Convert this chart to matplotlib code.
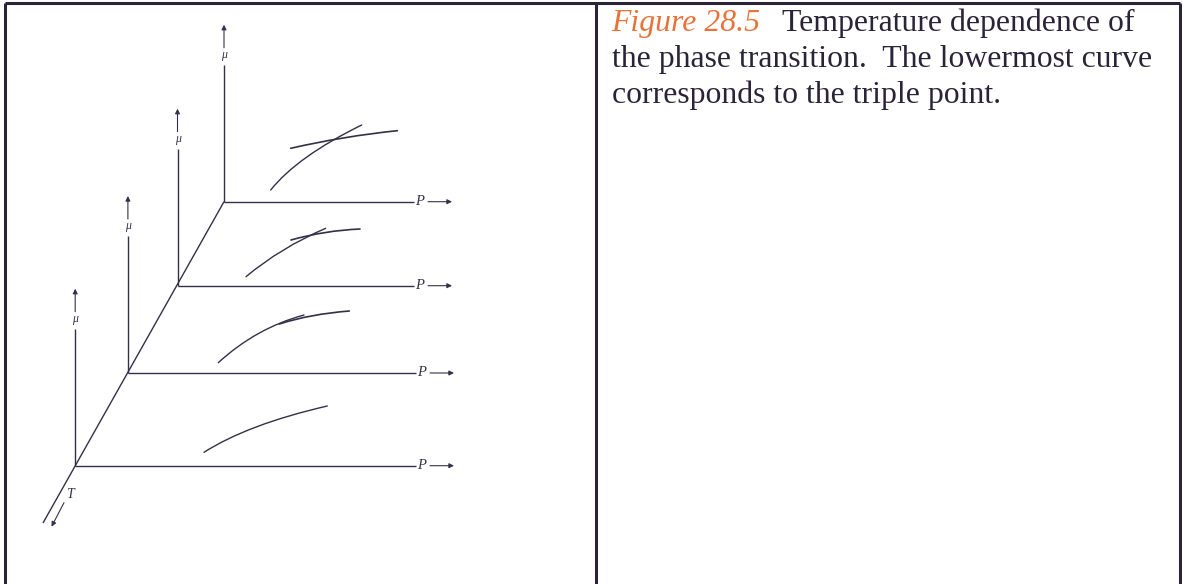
import matplotlib
matplotlib.use("Agg")
import matplotlib.pyplot as plt
from matplotlib.path import Path
from matplotlib.patches import PathPatch

# ---- diagram data (drawing units: x to the right, y downward) ----
# slices of the mu-P surface at four temperatures, bottom slice = triple point
slice_names = ["triple point", "T2", "T3", "T4"]
origin_x = [75.2, 127.9, 177.5, 224.0]
origin_y = [465.7, 373.0, 285.7, 201.7]
p_axis_end = [416.0, 416.0, 414.0, 414.0]

# temperature axis (from the far slice out toward the viewer)
t_axis_x = [224.0, 43.0]
t_axis_y = [201.7, 523.0]

# chemical-potential branches as quadratic Bezier segments: start, control, end
branch_a_start = [(204.0, 452.3), (218.3, 362.7), (246.0, 276.7), (270.7, 190.0)]
branch_a_ctrl = [(247.8, 424.3), (256.0, 328.0), (280.5, 247.7), (297.2, 156.6)]
branch_a_end = [(327.3, 406.0), (304.0, 315.0), (325.7, 228.3), (361.7, 125.0)]

branch_b_start = [None, (279.3, 324.0), (291.0, 240.0), (290.7, 148.3)]
branch_b_ctrl = [None, (309.7, 314.1), (324.5, 230.5), (344.0, 136.1)]
branch_b_end = [None, (349.3, 311.0), (360.0, 229.0), (397.3, 130.7)]

caption_lines = [
    ("Figure 28.5", "Temperature dependence of"),
    ("", "the phase transition.  The lowermost curve"),
    ("", "corresponds to the triple point."),
]

# ---- styling ----
INK = "#34304a"
FRAME = "#2a2536"
ORANGE = "#e8733a"
SERIF = "Liberation Serif"
W, H = 1182, 584

fig = plt.figure(figsize=(W / 100, H / 100), dpi=100)
ax = fig.add_axes([0, 0, 1, 1])
ax.set_xlim(0, W)
ax.set_ylim(H, 0)
ax.axis("off")

# table frame
frame_kw = dict(color=FRAME, lw=2.2, solid_capstyle="butt")
ax.plot([4.5, 1179.5], [2.8, 2.8], **frame_kw)
ax.plot([4.5, 4.5], [2.8, H], **frame_kw)
ax.plot([596.0, 596.0], [2.8, H], **frame_kw)
ax.plot([1179.5, 1179.5], [2.8, H], **frame_kw)

line_kw = dict(color=INK, lw=1.0, solid_capstyle="butt")
arrow_kw = dict(arrowstyle="-|>", color=INK, lw=0.8, mutation_scale=7,
                shrinkA=0, shrinkB=0)


def bezier(p0, c, p1, lw):
    path = Path([p0, c, p1], [Path.MOVETO, Path.CURVE3, Path.CURVE3])
    ax.add_patch(PathPatch(path, facecolor="none", edgecolor=INK, lw=lw,
                           capstyle="round"))


# temperature axis and its label
ax.plot(t_axis_x, t_axis_y, **line_kw)
ax.annotate("", xy=(51.5, 526.7), xytext=(64.0, 502.7), arrowprops=arrow_kw)
ax.text(69.8, 495.0, "T", family=SERIF, style="italic", fontsize=10,
        color=INK, ha="center", va="center")

for i in range(len(slice_names)):
    x0, y0 = origin_x[i], origin_y[i]
    # pressure axis
    ax.plot([x0, p_axis_end[i]], [y0, y0], **line_kw)
    ax.text(p_axis_end[i] + 6, y0, "P", family=SERIF, style="italic",
            fontsize=10.5, color=INK, ha="center", va="center")
    ax.annotate("", xy=(p_axis_end[i] + 38, y0), xytext=(p_axis_end[i] + 14, y0),
                arrowprops=arrow_kw)
    # chemical potential axis
    ax.plot([x0, x0], [y0, y0 - 137], **line_kw)
    ax.text(x0, y0 - 146.5, "μ", family=SERIF, style="italic", fontsize=8.5,
            color=INK, ha="center", va="center")
    ax.annotate("", xy=(x0, y0 - 177), xytext=(x0, y0 - 154), arrowprops=arrow_kw)
    # phase branches
    bezier(branch_a_start[i], branch_a_ctrl[i], branch_a_end[i], 1.0)
    if branch_b_start[i] is not None:
        bezier(branch_b_start[i], branch_b_ctrl[i], branch_b_end[i], 1.2)

# caption in the right cell
fs = 22.9
x_text = 611.5
baselines = [31.5, 67.5, 103.0]
fig.canvas.draw()
renderer = fig.canvas.get_renderer()
for (lead, rest), yb in zip(caption_lines, baselines):
    x = x_text
    if lead:
        t1 = ax.text(x, yb, lead, family=SERIF, style="italic", fontsize=fs,
                     color=ORANGE, ha="left", va="baseline")
        bb = t1.get_window_extent(renderer=renderer)
        x = bb.x1 + 22
        x = ax.transData.inverted().transform((x, 0))[0]
    ax.text(x, yb, rest, family=SERIF, fontsize=fs, color="#2a2438",
            ha="left", va="baseline")

fig.savefig("out.png", dpi=100, facecolor="white")
